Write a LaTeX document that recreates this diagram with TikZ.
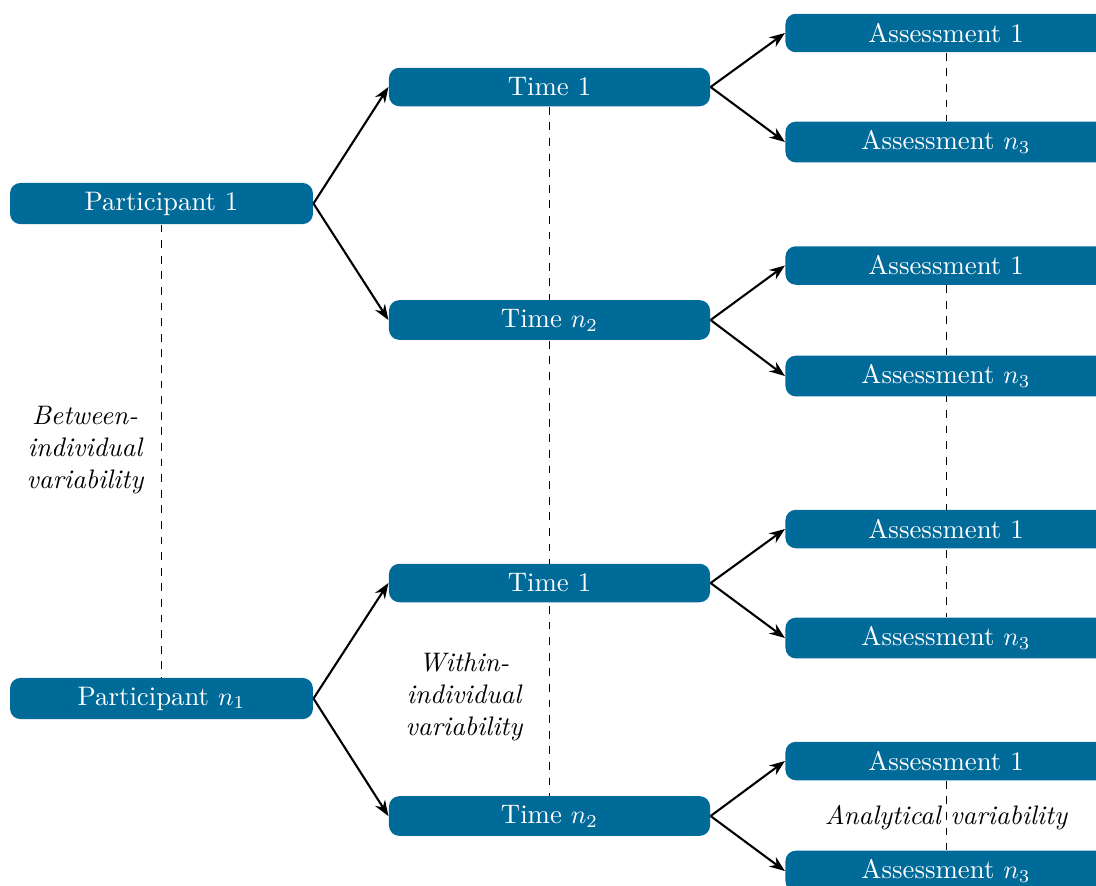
\documentclass[tikz,border=0pt]{standalone}
\usetikzlibrary{arrows.meta,backgrounds}
\definecolor{boxblue}{RGB}{0,106,152}
\begin{document}
\begin{tikzpicture}[x=0.3846pt,y=-0.3846pt,
  every node/.style={font=\fontsize{10.3}{12.4}\selectfont},
  box/.style={fill=boxblue,text=white,rounded corners=4pt,minimum height=14.8pt,inner sep=3.4pt},
  pbox/.style={box,minimum width=116.5pt},
  tbox/.style={box,minimum width=123.5pt},
  conn/.style={thick,-{Stealth[length=6pt,width=4.5pt,inset=2pt]}},
  vline/.style={dashed,thin},
  lab/.style={font=\fontsize{10.3}{12.4}\selectfont\itshape,align=center}]
\useasboundingbox (0,0) rectangle (1096,885);
\node[pbox] (P1) at (161.5,203.5) {Participant 1};
\node[pbox] (Pn) at (161.5,698.5) {Participant $n_1$};
\node[tbox] (T11) at (549.5,87) {Time 1};
\node[tbox] (T1n) at (549.5,320) {Time $n_2$};
\node[tbox] (T21) at (549.5,583) {Time 1};
\node[tbox] (T2n) at (549.5,816) {Time $n_2$};
\node[tbox] (A11) at (946,33) {Assessment 1};
\node[tbox] (A1n) at (946,142) {Assessment $n_3$};
\node[tbox] (A21) at (946,265.5) {Assessment 1};
\node[tbox] (A2n) at (946,376) {Assessment $n_3$};
\node[tbox] (A31) at (946,529) {Assessment 1};
\node[tbox] (A3n) at (946,638) {Assessment $n_3$};
\node[tbox] (A41) at (946,761) {Assessment 1};
\node[tbox] (A4n) at (946,871) {Assessment $n_3$};
\begin{scope}[on background layer]
\draw[vline] (P1.south) -- (Pn.north);
\draw[vline] (T11.south) -- (T2n.north);
\draw[vline] (A11.south) -- (A1n.north);
\draw[vline] (A21.south) -- (A3n.north);
\draw[vline] (A41.south) -- (A4n.north);
\end{scope}
\draw[conn] (P1.east) -- (T11.west);
\draw[conn] (P1.east) -- (T1n.west);
\draw[conn] (Pn.east) -- (T21.west);
\draw[conn] (Pn.east) -- (T2n.west);
\draw[conn] (T11.east) -- (A11.west);
\draw[conn] (T11.east) -- (A1n.west);
\draw[conn] (T1n.east) -- (A21.west);
\draw[conn] (T1n.east) -- (A2n.west);
\draw[conn] (T21.east) -- (A31.west);
\draw[conn] (T21.east) -- (A3n.west);
\draw[conn] (T2n.east) -- (A41.west);
\draw[conn] (T2n.east) -- (A4n.west);
\node[lab] (between) at (85,450) {Between-\\individual\\variability};
\node[lab] (within) at (464,697) {Within-\\individual\\variability};
\node[lab] (analytical) at (946,818) {Analytical variability};
\end{tikzpicture}
\end{document}
